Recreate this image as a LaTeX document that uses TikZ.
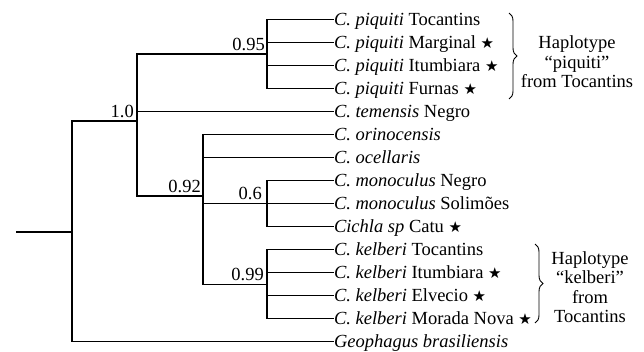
\documentclass[tikz,border=0pt]{standalone}
\usepackage{fontspec}
\setmainfont{Liberation Serif}
\newfontfamily\symfont{DejaVu Sans}
\usetikzlibrary{decorations.pathreplacing}
\newcommand{\st}{{\symfont\fontsize{15}{15}\selectfont ★}}
\begin{document}
\begin{tikzpicture}[x=1pt,y=-1pt,
  br/.style={line width=1.3pt, line cap=rect},
  leaf/.style={anchor=west, inner sep=0pt, outer sep=1pt, text height=14pt, text depth=3pt, font=\fontsize{18.5}{20}\selectfont},
  sup/.style={anchor=base east, inner sep=0pt, font=\fontsize{18.5}{20}\selectfont},
  brc/.style={decorate, decoration={brace, amplitude=8pt}, line width=0.9pt},
  note/.style={align=center, inner sep=0pt, font=\fontsize{18.5}{19.5}\selectfont}]
\useasboundingbox (0,0) rectangle (644,351);
% leaves
\node[leaf] (l1) at (333,19.5) {\textit{C. piquiti} Tocantins};
\node[leaf] (l2) at (333,42.5) {\textit{C. piquiti} Marginal \st};
\node[leaf] (l3) at (333,65.5) {\textit{C. piquiti} Itumbiara \st};
\node[leaf] (l4) at (333,88.5) {\textit{C. piquiti} Furnas \st};
\node[leaf] (l5) at (333,111.5) {\textit{C. temensis} Negro};
\node[leaf] (l6) at (333,134.5) {\textit{C. orinocensis}};
\node[leaf] (l7) at (333,157.5) {\textit{C. ocellaris}};
\node[leaf] (l8) at (333,180.5) {\textit{C. monoculus} Negro};
\node[leaf] (l9) at (333,203.5) {\textit{C. monoculus} Solimões};
\node[leaf] (l10) at (333,226.5) {\textit{Cichla sp} Catu \st};
\node[leaf] (l11) at (333,249.5) {\textit{C. kelberi} Tocantins};
\node[leaf] (l12) at (333,272.5) {\textit{C. kelberi} Itumbiara \st};
\node[leaf] (l13) at (333,295.5) {\textit{C. kelberi} Elvecio \st};
\node[leaf] (l14) at (333,318.5) {\textit{C. kelberi} Morada Nova \st};
\node[leaf] (l15) at (333,341.5) {\textit{Geophagus brasiliensis}};
% internal nodes
\coordinate (piq) at (267,54);
\coordinate (mon) at (267,203.5);
\coordinate (kel) at (267,284.5);
\coordinate (n92) at (203,196);
\coordinate (n10) at (137,121);
\coordinate (root) at (72,232);
\coordinate (stem) at (17,232);
% piquiti clade
\draw[br] (piq |- l1) -- (piq |- l4);
\foreach \i in {1,2,3,4} \draw[br] (piq |- l\i) -- (l\i.west);
% monoculus clade
\draw[br] (mon |- l8) -- (mon |- l10);
\foreach \i in {8,9,10} \draw[br] (mon |- l\i) -- (l\i.west);
% kelberi clade
\draw[br] (kel |- l11) -- (kel |- l14);
\foreach \i in {11,12,13,14} \draw[br] (kel |- l\i) -- (l\i.west);
% 0.92 node
\draw[br] (n92 |- l6) -- (n92 |- kel);
\draw[br] (n92 |- l6) -- (l6.west);
\draw[br] (n92 |- l7) -- (l7.west);
\draw[br] (n92 |- mon) -- (mon);
\draw[br] (n92 |- kel) -- (kel);
% 1.0 node
\draw[br] (n10 |- piq) -- (n10 |- n92);
\draw[br] (n10 |- piq) -- (piq);
\draw[br] (n10 |- l5) -- (l5.west);
\draw[br] (n10 |- n92) -- (n92);
% root
\draw[br] (root |- n10) -- (root |- l15);
\draw[br] (root |- n10) -- (n10);
\draw[br] (root |- l15) -- (l15.west);
\draw[br] (stem) -- (root);
% support values
\node[sup] (s95) at ([xshift=-2pt,yshift=4pt]piq) {0.95};
\node[sup] (s10) at ([xshift=-3pt,yshift=4pt]n10) {1.0};
\node[sup] (s92) at ([xshift=-2pt,yshift=4pt]n92) {0.92};
\node[sup] (s6) at ([xshift=-5pt,yshift=4pt]mon) {0.6};
\node[sup] (s99) at ([xshift=-3pt,yshift=4pt]kel) {0.99};
% braces
\coordinate (bp1) at (509,13);
\coordinate (bp2) at (509,99);
\coordinate (bk1) at (535,244);
\coordinate (bk2) at (535,323);
\draw[brc] (bp1) -- (bp2);
\draw[brc] (bk1) -- (bk2);
\node[note] (hp) at (577,62) {Haplotype\\“piquiti”\\from Tocantins};
\node[note] (hk) at (590,287) {Haplotype\\“kelberi”\\from\\Tocantins};
\end{tikzpicture}
\end{document}
